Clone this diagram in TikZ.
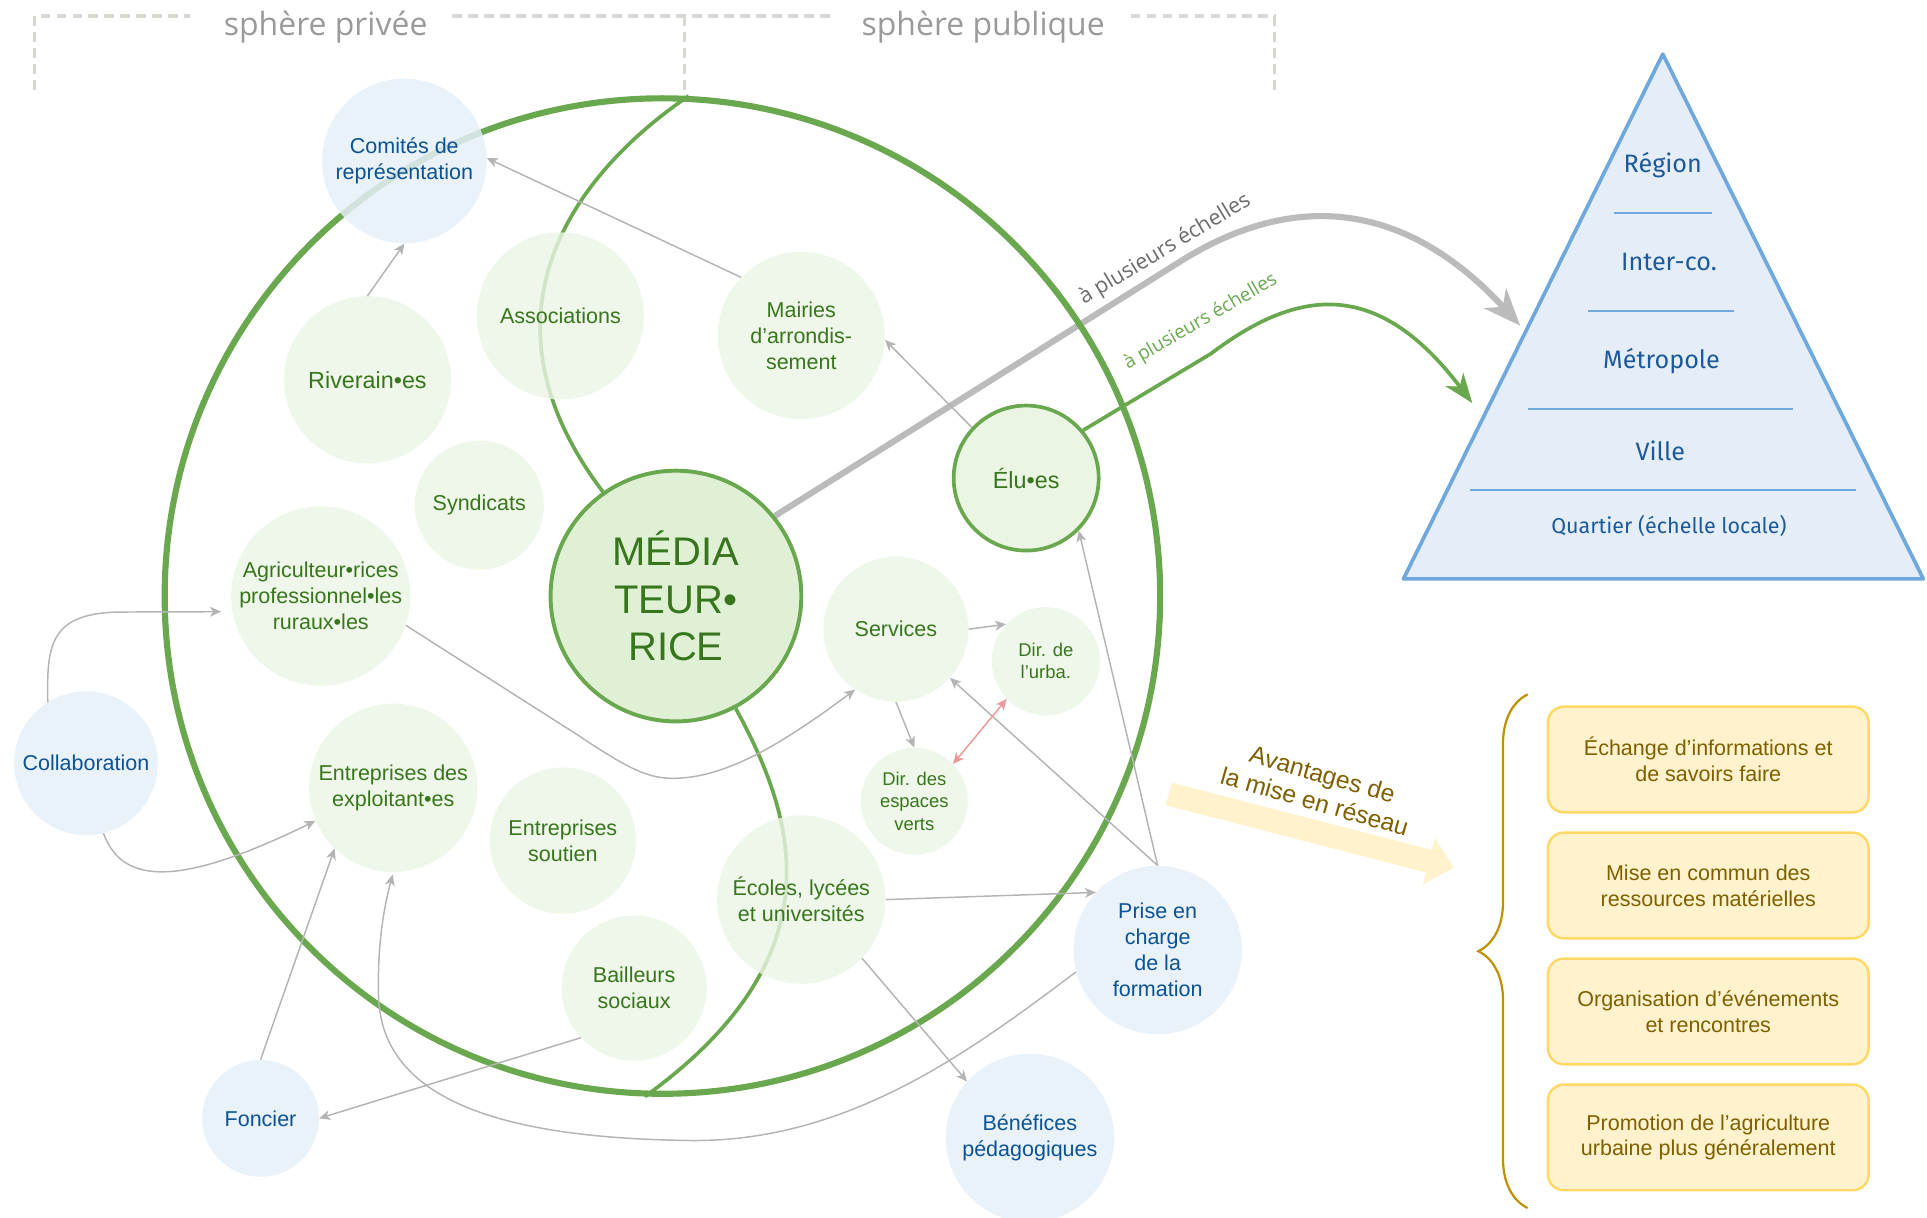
\documentclass[tikz,border=0pt]{standalone}
\usepackage{fontspec}
\setmainfont{Liberation Sans}
\newfontfamily\opensans{Open Sans}
\newfontfamily\firasans{Fira Sans}
\usetikzlibrary{arrows.meta,positioning,backgrounds,decorations.pathreplacing}

\definecolor{ringgreen}{HTML}{6AA84F}
\definecolor{leafgreen}{HTML}{EAF5E3}
\definecolor{coregreen}{HTML}{DFF0D5}
\definecolor{inkgreen}{HTML}{38761D}
\definecolor{skyfill}{HTML}{E5EEF8}
\definecolor{inkblue}{HTML}{0B5394}
\definecolor{tierblue}{HTML}{1C5A9A}
\definecolor{pyrline}{HTML}{6FA8DC}
\definecolor{linkgrey}{HTML}{B4B4B4}
\definecolor{scalegrey}{HTML}{BBBBBB}
\definecolor{scaletext}{HTML}{6B6B6B}
\definecolor{dashgrey}{HTML}{DAD6D1}
\definecolor{labelgrey}{HTML}{9A9A9A}
\definecolor{boxfill}{HTML}{FFF2CC}
\definecolor{boxline}{HTML}{FFD966}
\definecolor{inkgold}{HTML}{7F6000}
\definecolor{bracegold}{HTML}{BF9000}
\definecolor{pairred}{HTML}{EA9999}

\begin{document}
\begin{tikzpicture}[x=1pt, y=-1pt,
    node distance=14.5pt,
    every node/.style={font=\fontsize{17.5}{21}\selectfont, align=center, inner sep=0pt},
    actor/.style={circle, fill=leafgreen, fill opacity=0.8, text opacity=1, text=inkgreen, minimum size=#1},
    keyactor/.style={actor=#1, fill=coregreen, fill opacity=1, draw=ringgreen, line width=3.2pt},
    partner/.style={circle, fill=skyfill, fill opacity=0.85, text opacity=1, text=inkblue, minimum size=#1},
    tier/.style={font=\firasans\fontsize{20.5}{24}\selectfont, text=tierblue},
    perk/.style={draw=boxline, fill=boxfill, line width=2pt, rounded corners=13pt, minimum width=261pt, minimum height=86pt, text=inkgold},
    sphere label/.style={font=\opensans\fontsize{26}{30}\selectfont, text=labelgrey},
    spheredash/.style={draw=dashgrey, line width=3pt, dash pattern=on 8pt off 5pt},
    >={Stealth[length=9pt, width=8pt, inset=2.5pt]},
    link/.style={draw=linkgrey, line width=1.2pt, ->}
]
\useasboundingbox (0,0) rectangle (1568,991);

% private / public spheres
\draw[spheredash] (28,73) -- (28,13) -- (155,13);
\draw[spheredash] (368,13) -- (680,13);
\draw[spheredash] (557,13) -- (557,73);
\draw[spheredash] (920,13) -- (1037,13) -- (1037,73);
\node[sphere label] (privee) at (265,22) {sphère privée};
\node[sphere label] (publique) at (800,22) {sphère publique};

% actors
\node[circle, draw=ringgreen, line width=5pt, minimum size=810pt] (ring) at (539,485) {};
\node[keyactor=204pt, font=\fontsize{32.5}{38.5}\selectfont] (med) at (550,485) {MÉDIA\\TEUR•\\RICE};
\node[partner=134pt] (com) at (329,131) {Comités de\\représentation};
\node[actor=136pt, font=\fontsize{19}{23}\selectfont] (riv) at (299,309) {Riverain•es};
\node[actor=136pt] (asso) at (456,257) {Associations};
\node[actor=136pt] (mai) at (652,273) {Mairies\\d’arrondis-\\sement};
\node[actor=105pt] (syn) at (390,411) {Syndicats};
\node[actor=146pt] (agr) at (261,485) {Agriculteur•rices\\professionnel•les\\ruraux•les};
\node[keyactor=118pt, fill=leafgreen, line width=3pt, font=\fontsize{19}{23}\selectfont] (elu) at (835,389) {Élu•es};
\node[actor=118pt] (ser) at (729,512) {Services};
\node[actor=88pt, font=\fontsize{15}{18}\selectfont] (urb) at (851,538) {Dir. de\\l’urba.};
\node[actor=87pt, font=\fontsize{15}{18}\selectfont] (esp) at (744,652) {Dir. des\\espaces\\verts};
\node[actor=137pt] (ent) at (320,641) {Entreprises des\\exploitant•es};
\node[actor=119pt] (sou) at (458,684) {Entreprises\\soutien};
\node[actor=137pt] (eco) at (652,732) {Écoles, lycées\\et universités};
\node[actor=118pt] (bai) at (516,804) {Bailleurs\\sociaux};
\node[partner=117pt] (col) at (70,621) {Collaboration};
\node[partner=95pt] (fon) at (212,910) {Foncier};
\node[partner=137pt] (pri) at (942,773) {Prise en\\charge\\de la\\formation};
\node[partner=137pt] (ben) at (838,926) {Bénéfices\\pédagogiques};

% scales pyramid
\draw[draw=pyrline, fill=skyfill, line width=3pt, line join=round] (1353,44) -- (1565,471) -- (1142,471) -- cycle;
\draw[pyrline, line width=1.5pt] (1313,173) -- (1393,173) (1292,253) -- (1411,253)
    (1243,333) -- (1459,333) (1196,399) -- (1510,399);
\node[tier] (region) at (1353,134) {Région};
\node[tier] (interco) at (1358,213) {Inter-co.};
\node[tier] (metro) at (1352,294) {Métropole};
\node[tier] (ville) at (1351,367) {Ville};
\node[tier, font=\firasans\fontsize{17.5}{21}\selectfont] (quartier) at (1358,428) {Quartier (échelle locale)};
\coordinate (greytip) at (1237,265);
\coordinate (greentip) at (1198,328);

\begin{scope}[on background layer]
\draw[ringgreen, line width=3pt] (ring.87) .. controls (455,150) and (388,265) .. (med.125);
\draw[ringgreen, line width=3pt] (med.-62) .. controls (650,670) and (680,780) .. (ring.-92);
\draw[scalegrey, line width=5pt, -{Stealth[length=30pt, width=24pt, inset=9pt]}]
    (med.39) -- (960,213) .. controls (1060,150) and (1150,170) .. (greytip);
\draw[ringgreen, line width=3pt, -{Stealth[length=24pt, width=18pt, inset=7pt]}]
    (elu.40) -- (985,288) .. controls (1055,235) and (1120,225) .. (greentip);
\end{scope}
\node[font=\opensans\fontsize{17.5}{20}\selectfont, text=scaletext, rotate=31] (scalelbl) at (948,203) {à plusieurs échelles};
\node[font=\opensans\fontsize{15.5}{18}\selectfont, text=ringgreen, rotate=30] (greenlbl) at (977,262) {à plusieurs échelles};

% links between actors
\draw[link] (riv.north) -- (com.south);
\draw[link] (mai.136) -- (com.2);
\draw[link] (elu.137) -- (mai.-3);
\draw[link] (agr.-19) -- (470,598) .. controls (515,628) and (530,635) .. (555,633)
    .. controls (600,630) and (650,595) .. (ser.-124);
\draw[link, shorten >=9pt] (col.122) .. controls (38,525) and (40,498) .. (100,498) -- (agr.190);
\draw[link] (col.-76) .. controls (100,722) and (150,720) .. (ent.-157);
\draw[link] (fon.north) -- (ent.-134);
\draw[link] (bai.-137) -- (fon.east);
\draw[link, shorten >=2pt] (pri.-165) .. controls (790,855) and (690,930) .. (560,928)
    .. controls (420,926) and (310,900) .. (308,810) .. controls (307,770) and (312,740) .. (ent.south);
\draw[link] (eco.east) -- (pri.137);
\draw[link] (eco.-44) -- (ben.138);
\draw[link] (pri.north) -- (ser.-42);
\draw[link] (pri.north) -- (elu.-45);
\draw[link] (ser.east) -- (urb.137);
\draw[link] (ser.south) -- (esp.north);
\draw[link, draw=pairred, <->] (esp.44) -- (urb.-136);

% network benefits
\coordinate (gainstart) at (951,646);
\coordinate (gaintip) at (1183,706);
\draw[boxfill, line width=19pt, -{Triangle[length=21pt, width=38pt]}] (gainstart) -- (gaintip);
\node[font=\fontsize{20}{23}\selectfont, text=inkgold, rotate=-16] (gainlbl) at (1073,641) {Avantages de\\la mise en réseau};
\draw[bracegold, line width=1.8pt, decorate, decoration={brace, amplitude=40pt}] (1243,983) -- (1243,565);
\node[perk] (perk1) at (1390,618) {Échange d’informations et\\de savoirs faire};
\node[perk, below=of perk1] (perk2) {Mise en commun des\\ressources matérielles};
\node[perk, below=of perk2] (perk3) {Organisation d’événements\\et rencontres};
\node[perk, below=of perk3] (perk4) {Promotion de l’agriculture\\urbaine plus généralement};
\end{tikzpicture}
\end{document}
